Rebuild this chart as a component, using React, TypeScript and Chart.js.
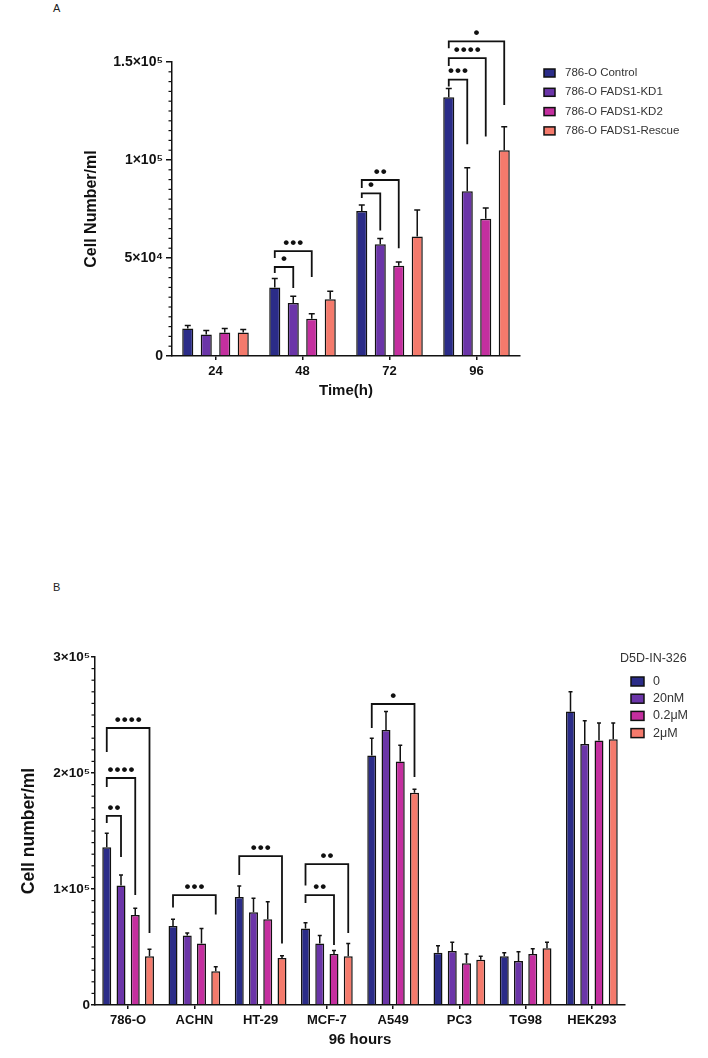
import React, { useEffect, useRef } from 'react';
import { Chart, registerables } from 'chart.js';
Chart.register(...registerables);

const FONT = '"Liberation Sans", Arial, Helvetica, sans-serif';
const INK = '#111111';

// ---------- Panel A data ----------
const timeLabels = ['24', '48', '72', '96'];
const aSeriesNames = ['786-O Control', '786-O FADS1-KD1', '786-O FADS1-KD2', '786-O FADS1-Rescue'];
const aControl = [14000, 35000, 74000, 132000];
const aKD1 = [11000, 27000, 57000, 84000];
const aKD2 = [12000, 19000, 46000, 70000];
const aRescue = [12000, 29000, 61000, 105000];
const aControlErr = [1500, 4500, 3000, 4500];
const aKD1Err = [2000, 3500, 3000, 12000];
const aKD2Err = [2000, 2500, 2000, 5500];
const aRescueErr = [1500, 4000, 13500, 12000];
const aTickValues = [0, 50000, 100000, 150000];
const aTickText = ['0', '5×10⁴', '1×10⁵', '1.5×10⁵'];
const aBrackets = [
  { cat: 1, from: 0, to: 1, y: 45400, left: 42300, right: 34700, stars: '*' },
  { cat: 1, from: 0, to: 2, y: 53500, left: 50000, right: 40300, stars: '***' },
  { cat: 2, from: 0, to: 1, y: 83000, left: 80600, right: 64000, stars: '*' },
  { cat: 2, from: 0, to: 2, y: 89800, left: 85700, right: 55000, stars: '**' },
  { cat: 3, from: 0, to: 1, y: 141000, left: 137500, right: 108000, stars: '***' },
  { cat: 3, from: 0, to: 2, y: 152000, left: 148000, right: 112000, stars: '****' },
  { cat: 3, from: 0, to: 3, y: 160500, left: 157000, right: 128000, stars: '*' },
];

// ---------- Panel B data ----------
const cellLines = ['786-O', 'ACHN', 'HT-29', 'MCF-7', 'A549', 'PC3', 'TG98', 'HEK293'];
const bSeriesNames = ['0', '20nM', '0.2μM', '2μM'];
const bLegendTitle = 'D5D-IN-326';
const b0 = [136000, 68000, 93000, 66000, 215000, 45000, 42000, 253000];
const b20nM = [103000, 60000, 80000, 53000, 237000, 46500, 38000, 225000];
const b02uM = [77500, 53000, 74000, 44000, 210000, 36000, 44000, 228000];
const b2uM = [42000, 29000, 40500, 42000, 183000, 39000, 49000, 229000];
const b0Err = [12000, 6000, 9500, 5000, 15000, 6000, 3000, 17000];
const b20nMErr = [9000, 2000, 12000, 7000, 16000, 7500, 8000, 20000];
const b02uMErr = [6000, 13000, 15000, 3000, 14000, 8000, 4500, 15000];
const b2uMErr = [6000, 4000, 2000, 11000, 3000, 3000, 5000, 14000];
const bTickValues = [0, 100000, 200000, 300000];
const bTickText = ['0', '1×10⁵', '2×10⁵', '3×10⁵'];
const bBrackets = [
  { cat: 0, from: 0, to: 1, y: 163000, left: 157000, right: 127600, stars: '**' },
  { cat: 0, from: 0, to: 2, y: 195700, left: 188000, right: 94800, stars: '****' },
  { cat: 0, from: 0, to: 3, y: 238800, left: 218000, right: 62000, stars: '****' },
  { cat: 1, from: 0, to: 3, y: 94800, left: 84000, right: 78000, stars: '***' },
  { cat: 2, from: 0, to: 3, y: 128400, left: 112000, right: 53000, stars: '***' },
  { cat: 3, from: 0, to: 3, y: 121500, left: 103000, right: 62000, stars: '**' },
  { cat: 3, from: 0, to: 2, y: 94800, left: 88000, right: 51700, stars: '**' },
  { cat: 4, from: 0, to: 3, y: 259500, left: 238800, right: 196500, stars: '*' },
];

const COLORS = ['#2b2c88', '#6b35a8', '#c42f9f', '#f47a6c'];

type Bracket = { cat: number; from: number; to: number; y: number; left: number; right: number; stars: string };

function annotPlugin(p: {
  errs: number[][];
  brackets: Bracket[];
  capW: number;
  pitch: number;
  starSize: number;
  starGap: number;
  minorStep: number;
  majorStep: number;
  minorLen: number;
  max: number;
  legend: { title?: string; titleX?: number; titleY?: number; sqX: number; sqW: number; sqH: number; textX: number; y0: number; dy: number; size: number };
}) {
  return {
    id: 'annot',
    afterDatasetsDraw(chart: any) {
      const ctx = chart.ctx as CanvasRenderingContext2D;
      const ys = chart.scales.y;
      ctx.save();
      ctx.strokeStyle = INK;
      ctx.lineWidth = 1.5;
      chart.data.datasets.forEach((ds: any, di: number) => {
        const meta = chart.getDatasetMeta(di);
        meta.data.forEach((bar: any, i: number) => {
          const v = ds.data[i];
          const e = p.errs[di][i];
          const x = bar.x;
          const y0 = ys.getPixelForValue(v);
          const y1 = ys.getPixelForValue(v + e);
          ctx.beginPath();
          ctx.moveTo(x, y0);
          ctx.lineTo(x, y1);
          ctx.moveTo(x - p.capW / 2, y1);
          ctx.lineTo(x + p.capW / 2, y1);
          ctx.stroke();
        });
      });
      ctx.lineWidth = 1.8;
      ctx.fillStyle = INK;
      ctx.font = `bold ${p.starSize}px ${FONT}`;
      ctx.textAlign = 'center';
      ctx.textBaseline = 'middle';
      p.brackets.forEach((b) => {
        const x1 = chart.getDatasetMeta(b.from).data[b.cat].x;
        const x2 = chart.getDatasetMeta(b.to).data[b.cat].x;
        const yb = ys.getPixelForValue(b.y);
        ctx.beginPath();
        ctx.moveTo(x1, ys.getPixelForValue(b.left));
        ctx.lineTo(x1, yb);
        ctx.lineTo(x2, yb);
        ctx.lineTo(x2, ys.getPixelForValue(b.right));
        ctx.stroke();
        const n = b.stars.length;
        const cx = (x1 + x2) / 2;
        for (let k = 0; k < n; k++) {
          ctx.fillText('•', cx + (k - (n - 1) / 2) * p.pitch, yb - p.starGap);
        }
      });
      ctx.restore();
    },
    afterDraw(chart: any) {
      const ctx = chart.ctx as CanvasRenderingContext2D;
      const ys = chart.scales.y;
      const left = chart.chartArea.left;
      ctx.save();
      ctx.strokeStyle = INK;
      ctx.lineWidth = 1.2;
      for (let v = 0; v <= p.max; v += p.minorStep) {
        if (v % p.majorStep === 0) continue;
        const y = ys.getPixelForValue(v);
        ctx.beginPath();
        ctx.moveTo(left - p.minorLen, y);
        ctx.lineTo(left, y);
        ctx.stroke();
      }
      const L = p.legend;
      ctx.font = `${L.size}px ${FONT}`;
      ctx.textBaseline = 'middle';
      ctx.textAlign = 'left';
      ctx.fillStyle = '#333';
      if (L.title) ctx.fillText(L.title, L.titleX!, L.titleY!);
      chart.data.datasets.forEach((ds: any, i: number) => {
        const cy = L.y0 + i * L.dy;
        ctx.fillStyle = ds.backgroundColor;
        ctx.fillRect(L.sqX, cy - L.sqH / 2, L.sqW, L.sqH);
        ctx.strokeStyle = INK;
        ctx.lineWidth = 1.5;
        ctx.strokeRect(L.sqX, cy - L.sqH / 2, L.sqW, L.sqH);
        ctx.fillStyle = '#333';
        ctx.fillText(ds.label, L.textX, cy);
      });
      ctx.restore();
    },
  };
}

function makeConfig(o: {
  labels: string[];
  names: string[];
  series: number[][];
  errs: number[][];
  brackets: Bracket[];
  max: number;
  tickValues: number[];
  tickText: string[];
  minorStep: number;
  majorStep: number;
  padding: { left: number; right: number; top: number; bottom: number };
  yWidth: number;
  xHeight: number;
  xTitle: string;
  yTitle: string;
  yTitleSize: number;
  xTitleSize: number;
  yTickSize: number;
  xTickSize: number;
  yTickLen: number;
  yTickPad: number;
  catPct: number;
  barPct: number;
  capW: number;
  legend: any;
}) {
  return {
    type: 'bar' as const,
    data: {
      labels: o.labels,
      datasets: o.series.map((d, i) => ({
        label: o.names[i],
        data: d,
        backgroundColor: COLORS[i],
        borderColor: INK,
        borderWidth: 1.5,
        categoryPercentage: o.catPct,
        barPercentage: o.barPct,
      })),
    },
    options: {
      responsive: false,
      animation: false as const,
      layout: { padding: o.padding },
      plugins: { legend: { display: false }, tooltip: { enabled: false } },
      scales: {
        x: {
          grid: { display: true, drawOnChartArea: false, offset: false, tickLength: 4, color: INK, lineWidth: 1.5 },
          border: { display: true, color: INK, width: 1.5 },
          ticks: { color: INK, font: { family: FONT, size: o.xTickSize, weight: 'bold' as const }, padding: 4, maxRotation: 0 },
          title: { display: true, text: o.xTitle, color: INK, font: { family: FONT, size: o.xTitleSize, weight: 'bold' as const }, padding: { top: 0, bottom: 4 } },
          afterFit: (s: any) => { s.height = o.xHeight; },
        },
        y: {
          min: 0,
          max: o.max,
          afterBuildTicks: (s: any) => { s.ticks = o.tickValues.map((v) => ({ value: v })); },
          ticks: {
            color: INK,
            font: { family: FONT, size: o.yTickSize, weight: 'bold' as const },
            padding: o.yTickPad,
            callback: (v: any) => { const i = o.tickValues.indexOf(Number(v)); return i >= 0 ? o.tickText[i] : ''; },
          },
          grid: { display: true, drawOnChartArea: false, tickLength: o.yTickLen, color: INK, lineWidth: 1.5 },
          border: { display: true, color: INK, width: 1.5 },
          title: { display: true, text: o.yTitle, color: INK, font: { family: FONT, size: o.yTitleSize, weight: 'bold' as const }, padding: { top: 4, bottom: 4 } },
          afterFit: (s: any) => { s.width = o.yWidth; },
        },
      },
    },
    plugins: [
      annotPlugin({
        errs: o.errs,
        brackets: o.brackets,
        capW: o.capW,
        pitch: 7,
        starSize: 17,
        starGap: 8,
        minorStep: o.minorStep,
        majorStep: o.majorStep,
        minorLen: 3.5,
        max: o.max,
        legend: o.legend,
      }),
    ],
  };
}

function Panel({ cfg, top, width, height }: { cfg: () => any; top: number; width: number; height: number }) {
  const ref = useRef<HTMLCanvasElement>(null);
  useEffect(() => {
    const chart = new Chart(ref.current as HTMLCanvasElement, cfg());
    return () => chart.destroy();
  }, []);
  return (
    <canvas
      ref={ref}
      width={width}
      height={height}
      style={{ position: 'absolute', left: 0, top, width, height }}
    />
  );
}

const configA = () =>
  makeConfig({
    labels: timeLabels,
    names: aSeriesNames,
    series: [aControl, aKD1, aKD2, aRescue],
    errs: [aControlErr, aKD1Err, aKD2Err, aRescueErr],
    brackets: aBrackets,
    max: 150000,
    tickValues: aTickValues,
    tickText: aTickText,
    minorStep: 5000,
    majorStep: 50000,
    padding: { left: 78, right: 188, top: 62, bottom: 16 },
    yWidth: 94,
    xHeight: 48,
    xTitle: 'Time(h)',
    yTitle: 'Cell Number/ml',
    yTitleSize: 16,
    xTitleSize: 15,
    yTickSize: 14,
    xTickSize: 13,
    yTickLen: 6,
    yTickPad: 3,
    catPct: 0.85,
    barPct: 0.6,
    capW: 6,
    legend: { sqX: 544, sqW: 11, sqH: 8, textX: 565, y0: 73, dy: 19.3, size: 11.5 },
  });

const configB = () =>
  makeConfig({
    labels: cellLines,
    names: bSeriesNames,
    series: [b0, b20nM, b02uM, b2uM],
    errs: [b0Err, b20nMErr, b02uMErr, b2uMErr],
    brackets: bBrackets,
    max: 300000,
    tickValues: bTickValues,
    tickText: bTickText,
    minorStep: 10000,
    majorStep: 100000,
    padding: { left: 15, right: 83, top: 97, bottom: 5 },
    yWidth: 80,
    xHeight: 48,
    xTitle: '96 hours',
    yTitle: 'Cell number/ml',
    yTitleSize: 17.5,
    xTitleSize: 15,
    yTickSize: 13.5,
    xTickSize: 13,
    yTickLen: 4,
    yTickPad: 1,
    catPct: 0.86,
    barPct: 0.63,
    capW: 4,
    legend: { title: bLegendTitle, titleX: 620, titleY: 99, sqX: 631, sqW: 13, sqH: 9, textX: 653, y0: 121.5, dy: 17.2, size: 12.5 },
  });

export default function App() {
  return (
    <div style={{ position: 'absolute', left: 0, top: 0, width: 708, height: 1058, background: '#fff', overflow: 'hidden' }}>
      <div style={{ position: 'absolute', left: 53, top: 2, fontFamily: FONT, fontSize: 11, color: '#222' }}>A</div>
      <div style={{ position: 'absolute', left: 53, top: 581, fontFamily: FONT, fontSize: 11, color: '#222' }}>B</div>
      <Panel cfg={configA} top={0} width={708} height={420} />
      <Panel cfg={configB} top={560} width={708} height={498} />
    </div>
  );
}
